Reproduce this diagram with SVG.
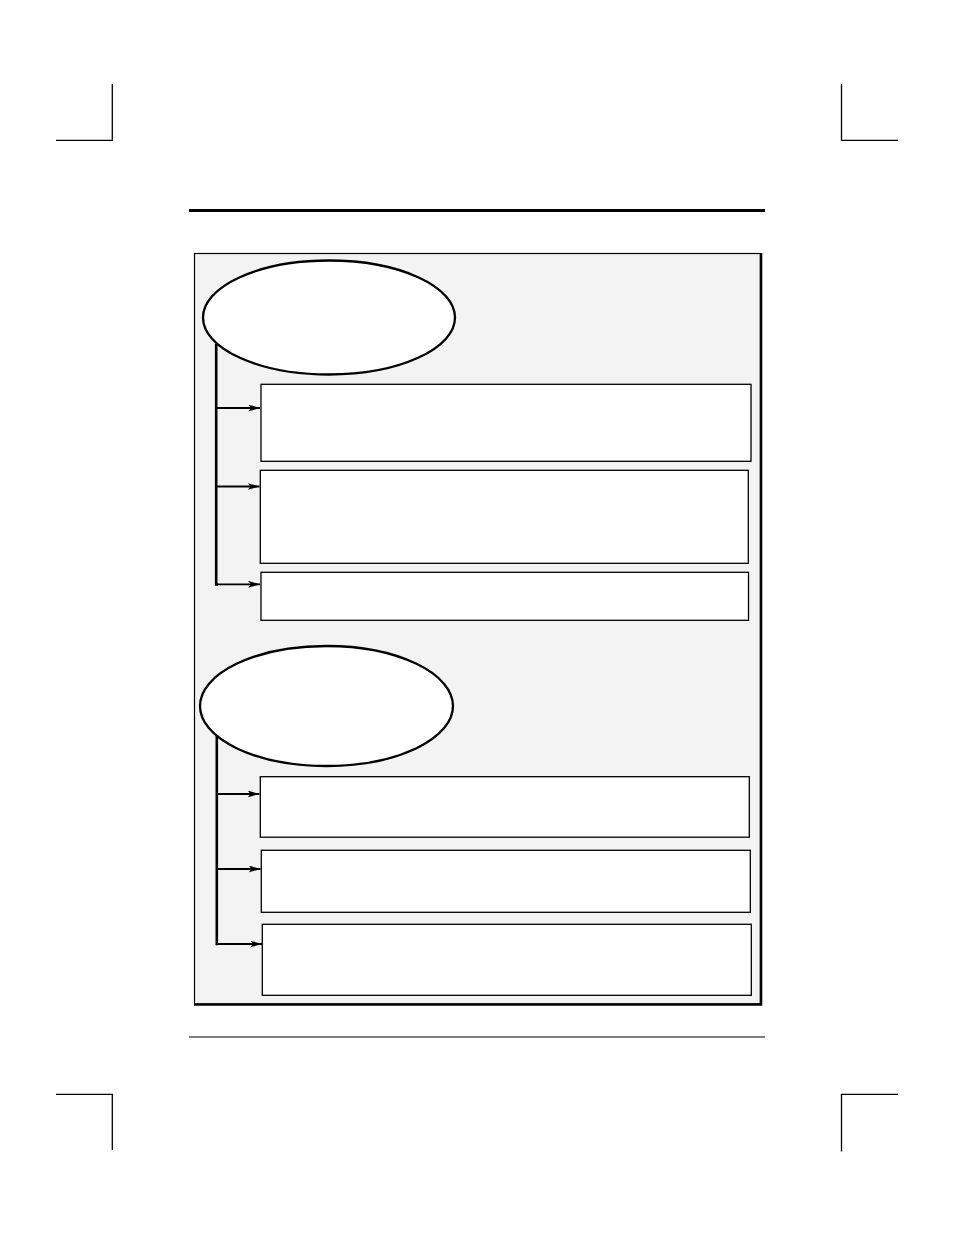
<svg xmlns="http://www.w3.org/2000/svg" width="954" height="1235" viewBox="0 0 954 1235">
<style>
.crop{stroke:#000;stroke-width:1.3;fill:none}
.box{fill:#fff;stroke:#000;stroke-width:1.3}
.oval{fill:#fff;stroke:#000;stroke-width:2.3}
.trunk{stroke:#000;stroke-width:2.6;fill:none}
.branch{stroke:#000;stroke-width:1.8;fill:none;marker-end:url(#ah)}
</style>
<defs>
<marker id="ah" viewBox="0 0 12 7" refX="12" refY="3.5" markerWidth="12" markerHeight="7" markerUnits="userSpaceOnUse" orient="auto">
<path d="M0,0 L12,3.5 L0,7 L3,3.5 Z" fill="#000"/>
</marker>
</defs>
<rect width="954" height="1235" fill="#fff"/>
<g id="page-marks">
<path class="crop" d="M112.3,84 V140.3 H56"/>
<path class="crop" d="M841.5,84 V140.3 H898"/>
<path class="crop" d="M56,1094.3 H112.3 V1150"/>
<path class="crop" d="M898,1094.3 H841.5 V1151.5"/>
<line x1="189" y1="210.5" x2="765" y2="210.5" stroke="#000" stroke-width="3"/>
<line x1="189" y1="1037" x2="765" y2="1037" stroke="#000" stroke-width="1.2"/>
</g>
<g id="panel">
<rect x="194.5" y="253.5" width="566" height="750.5" fill="#f3f3f3" stroke="#000" stroke-width="1.2"/>
<path d="M761,253 V1004.5 H194" fill="none" stroke="#000" stroke-width="2.6"/>
</g>
<g id="connectors">
<path class="trunk" d="M216.2,344 V584.5 H218"/>
<line class="branch" x1="216" y1="408" x2="260" y2="408"/>
<line class="branch" x1="216" y1="486.5" x2="259.5" y2="486.5"/>
<line class="branch" x1="217" y1="584.3" x2="260" y2="584.3"/>
<path class="trunk" d="M216.8,735 V944 H218"/>
<line class="branch" x1="217" y1="794" x2="259.5" y2="794"/>
<line class="branch" x1="217" y1="869" x2="260.5" y2="869"/>
<line class="branch" x1="217" y1="944" x2="262" y2="944" stroke-width="2.6"/>
</g>
<g id="group1-oval"><ellipse class="oval" cx="329" cy="317.5" rx="126" ry="57"/></g>
<g id="box1"><rect class="box" x="261" y="384.3" width="490" height="77"/></g>
<g id="box2"><rect class="box" x="260.3" y="470.3" width="488" height="93"/></g>
<g id="box3"><rect class="box" x="261" y="572.3" width="487.5" height="48"/></g>
<g id="group2-oval"><ellipse class="oval" cx="326.5" cy="706" rx="126.5" ry="60"/></g>
<g id="box4"><rect class="box" x="260.3" y="776.7" width="489" height="60.5"/></g>
<g id="box5"><rect class="box" x="261.3" y="850.3" width="489" height="62"/></g>
<g id="box6"><rect class="box" x="262.3" y="924.3" width="489" height="71"/></g>
</svg>
